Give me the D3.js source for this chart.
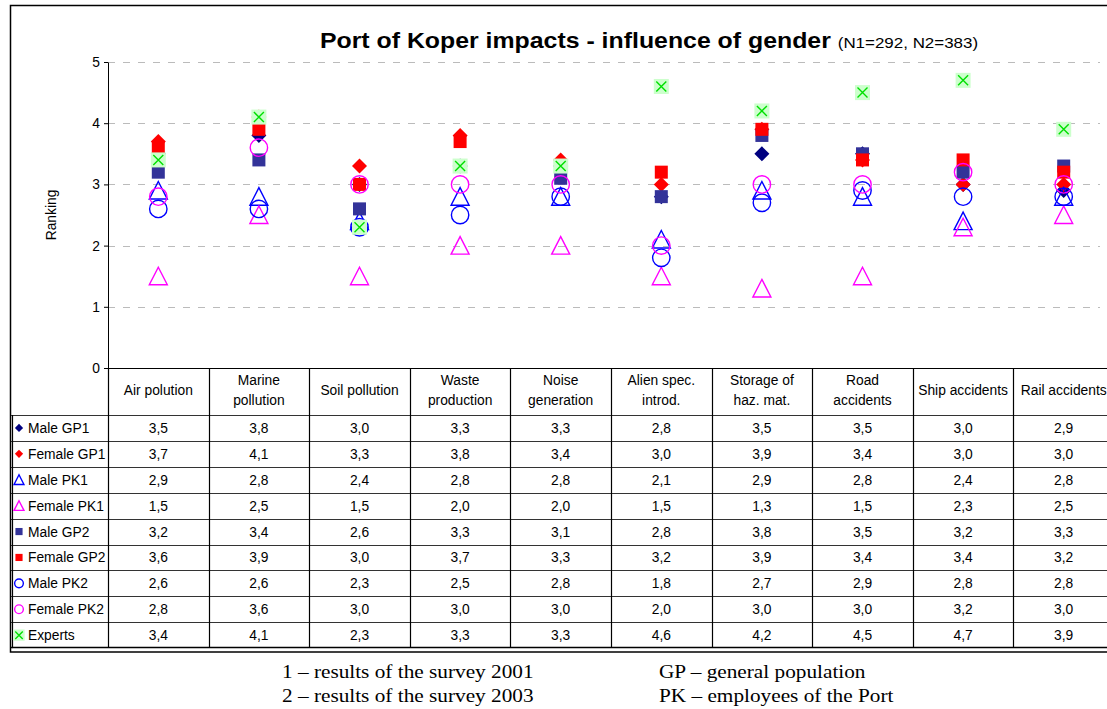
<!DOCTYPE html>
<html><head><meta charset="utf-8">
<script src="https://cdn.jsdelivr.net/npm/d3@7"></script>
<style>body{margin:0;background:#fff}svg{display:block}</style>
</head><body>
<svg id="c" width="1107" height="709"></svg>
<script>
const categories = ["Air polution","Marine pollution","Soil pollution","Waste production","Noise generation","Alien spec. introd.","Storage of haz. mat.","Road accidents","Ship accidents","Rail accidents"];
const categoryLines = [["Air polution"],["Marine","pollution"],["Soil pollution"],["Waste","production"],["Noise","generation"],["Alien spec.","introd."],["Storage of","haz. mat."],["Road","accidents"],["Ship accidents"],["Rail accidents"]];
const seriesNames = ["Male GP1","Female GP1","Male PK1","Female PK1","Male GP2","Female GP2","Male PK2","Female PK2","Experts"];
const maleGP1   = [3.5,3.8,3.0,3.3,3.3,2.8,3.5,3.5,3.0,2.9];
const femaleGP1 = [3.7,4.1,3.3,3.8,3.4,3.0,3.9,3.4,3.0,3.0];
const malePK1   = [2.9,2.8,2.4,2.8,2.8,2.1,2.9,2.8,2.4,2.8];
const femalePK1 = [1.5,2.5,1.5,2.0,2.0,1.5,1.3,1.5,2.3,2.5];
const maleGP2   = [3.2,3.4,2.6,3.3,3.1,2.8,3.8,3.5,3.2,3.3];
const femaleGP2 = [3.6,3.9,3.0,3.7,3.3,3.2,3.9,3.4,3.4,3.2];
const malePK2   = [2.6,2.6,2.3,2.5,2.8,1.8,2.7,2.9,2.8,2.8];
const femalePK2 = [2.8,3.6,3.0,3.0,3.0,2.0,3.0,3.0,3.2,3.0];
const experts   = [3.4,4.1,2.3,3.3,3.3,4.6,4.2,4.5,4.7,3.9];
const yTicks = [0,1,2,3,4,5];
const footnotes = [["1 – results of the survey 2001","2 – results of the survey 2003"],["GP – general population","PK – employees of the Port"]];

const seriesValues = [maleGP1,femaleGP1,malePK1,femalePK1,maleGP2,femaleGP2,malePK2,femalePK2,experts];
const styles = [
  {shape:"diamond", fill:"#000080", stroke:"none"},
  {shape:"diamond", fill:"#FF0000", stroke:"none"},
  {shape:"triangle", fill:"none", stroke:"#0000FF"},
  {shape:"triangle", fill:"none", stroke:"#FF00FF"},
  {shape:"square", fill:"#333399", stroke:"none"},
  {shape:"square", fill:"#FF0000", stroke:"none"},
  {shape:"circle", fill:"none", stroke:"#0000FF"},
  {shape:"circle", fill:"none", stroke:"#FF00FF"},
  {shape:"x", fill:"#CCFFCC", stroke:"#00E000"}
];

const svg = d3.select("#c");
const FONT = "Liberation Sans, Arial, sans-serif";
const TFS = 13.8;
const plotLeft = 108, colW = 100.6, plotTop = 62, plotBottom = 368;
const x = d3.scaleBand().domain(categories).range([plotLeft, plotLeft + colW*categories.length]).padding(0);
const y = d3.scaleLinear().domain([0,5]).range([plotBottom, plotTop]);
const rowTop = 415, rowH = 25.9;
const r = d3.scaleBand().domain(seriesNames).range([rowTop, rowTop + rowH*seriesNames.length]).padding(0);

// outer frame
svg.append("rect").attr("x",10.5).attr("y",5.5).attr("width",1100).attr("height",646.5)
  .attr("fill","none").attr("stroke","#000").attr("stroke-width",1.5);

// title
const title = svg.append("text").attr("transform","translate(649,48) scale(1.13,1)").attr("text-anchor","middle").attr("font-family",FONT);
title.append("tspan").attr("font-weight","bold").attr("font-size",22).text("Port of Koper impacts - influence of gender ");
title.append("tspan").attr("font-size",15).text("(N1=292, N2=383)");

// gridlines
svg.append("g").selectAll("line").data(yTicks.filter(d=>d>0)).join("line")
  .attr("x1",plotLeft).attr("x2",1100).attr("y1",d=>Math.round(y(d))+0.5).attr("y2",d=>Math.round(y(d))+0.5)
  .attr("stroke","#bbb").attr("stroke-width",1.2).attr("stroke-dasharray","7,8");

// y axis
const yAxis = d3.axisLeft(y).tickValues(yTicks).tickSize(4).tickSizeOuter(0).tickFormat(d3.format("d"));
const ya = svg.append("g").attr("transform",`translate(${plotLeft},0)`).call(yAxis);
ya.select(".domain").attr("stroke","#000");
ya.selectAll(".tick line").attr("stroke","#000");
ya.selectAll(".tick text").attr("font-family",FONT).attr("font-size",TFS).attr("fill","#000").attr("x",-8);

svg.append("text").attr("transform","translate(56,215) rotate(-90)").attr("text-anchor","middle")
  .attr("font-family",FONT).attr("font-size",TFS).text("Ranking");

// table
const tbl = svg.append("g");
const tableRight = 1107;
const tableBottom = rowTop + rowH*seriesNames.length;
tbl.append("line").attr("x1",plotLeft).attr("x2",tableRight).attr("y1",plotBottom+0.5).attr("y2",plotBottom+0.5).attr("stroke","#000").attr("stroke-width",1.2);
tbl.selectAll("line.h").data(seriesNames).join("line").attr("class","h")
  .attr("x1",11).attr("x2",tableRight).attr("y1",d=>Math.round(r(d))+0.5).attr("y2",d=>Math.round(r(d))+0.5)
  .attr("stroke","#333").attr("stroke-width",1.2);
tbl.append("line").attr("x1",11).attr("x2",tableRight).attr("y1",tableBottom-0.5).attr("y2",tableBottom-0.5).attr("stroke","#000").attr("stroke-width",1.5);
tbl.append("line").attr("x1",12.5).attr("x2",12.5).attr("y1",rowTop).attr("y2",tableBottom).attr("stroke","#000").attr("stroke-width",1.2);
tbl.selectAll("line.v").data(categories).join("line").attr("class","v")
  .attr("x1",d=>Math.round(x(d))+0.5).attr("x2",d=>Math.round(x(d))+0.5)
  .attr("y1",plotBottom).attr("y2",tableBottom).attr("stroke","#000").attr("stroke-width",1.2);

categories.forEach((c,i)=>{
  const lines = categoryLines[i];
  const cx = x(c) + x.bandwidth()/2;
  const t = tbl.append("text").attr("text-anchor","middle").attr("font-family",FONT).attr("font-size",TFS).attr("fill","#000");
  lines.forEach((ln,j)=>{
    const yy = lines.length===1 ? 395 : 385 + j*20;
    t.append("tspan").attr("x",cx).attr("y",yy).text(ln);
  });
});

function drawMarker(g, st, cx, cy, scale){
  const s = scale||1;
  if(st.shape==="diamond"){
    const h=7.5*s;
    g.append("path").attr("d",`M${cx},${cy-h}L${cx+h},${cy}L${cx},${cy+h}L${cx-h},${cy}Z`).attr("fill",st.fill);
  } else if(st.shape==="square"){
    const h=6.5*s;
    g.append("rect").attr("x",cx-h).attr("y",cy-h).attr("width",2*h).attr("height",2*h).attr("fill",st.fill);
  } else if(st.shape==="triangle"){
    const h=9*s;
    g.append("path").attr("d",`M${cx},${cy-h}L${cx+h},${cy+h*0.95}L${cx-h},${cy+h*0.95}Z`)
      .attr("fill","none").attr("stroke",st.stroke).attr("stroke-width",1.4);
  } else if(st.shape==="circle"){
    g.append("circle").attr("cx",cx).attr("cy",cy).attr("r",8.7*s).attr("fill","none").attr("stroke",st.stroke).attr("stroke-width",1.4);
  } else if(st.shape==="x"){
    const h=7.5*s, k=5*s;
    g.append("rect").attr("x",cx-h).attr("y",cy-h).attr("width",2*h).attr("height",2*h).attr("fill",st.fill);
    g.append("path").attr("d",`M${cx-k},${cy-k}L${cx+k},${cy+k}M${cx+k},${cy-k}L${cx-k},${cy+k}`)
      .attr("stroke",st.stroke).attr("stroke-width",1.4);
  }
}

seriesNames.forEach((name,si)=>{
  const cy = r(name) + r.bandwidth()/2;
  const st = styles[si];
  drawMarker(tbl, st, 19, cy, st.shape==="x"?0.75:(st.shape==="circle"?0.5:0.55));
  tbl.append("text").attr("x",28).attr("y",cy+5).attr("font-family",FONT).attr("font-size",TFS).text(name);
  seriesValues[si].forEach((v,ci)=>{
    tbl.append("text").attr("x",x(categories[ci])+x.bandwidth()/2).attr("y",cy+5)
      .attr("text-anchor","middle").attr("font-family",FONT).attr("font-size",TFS)
      .text(d3.format(".1f")(v).replace(".",","));
  });
});

const mk = svg.append("g");
seriesValues.forEach((vals,si)=>{
  const g = mk.append("g");
  vals.forEach((v,ci)=>{
    drawMarker(g, styles[si], x(categories[ci])+x.bandwidth()/2, y(v), 1);
  });
});

footnotes.forEach((col,ci)=>{
  col.forEach((t,j)=>{
    svg.append("text").attr("transform",`translate(${ci===0?282:659},${678+j*24}) scale(1.15,1)`)
      .attr("font-family","Liberation Serif, Times New Roman, serif").attr("font-size",18.5).text(t);
  });
});
</script>
</body></html>
